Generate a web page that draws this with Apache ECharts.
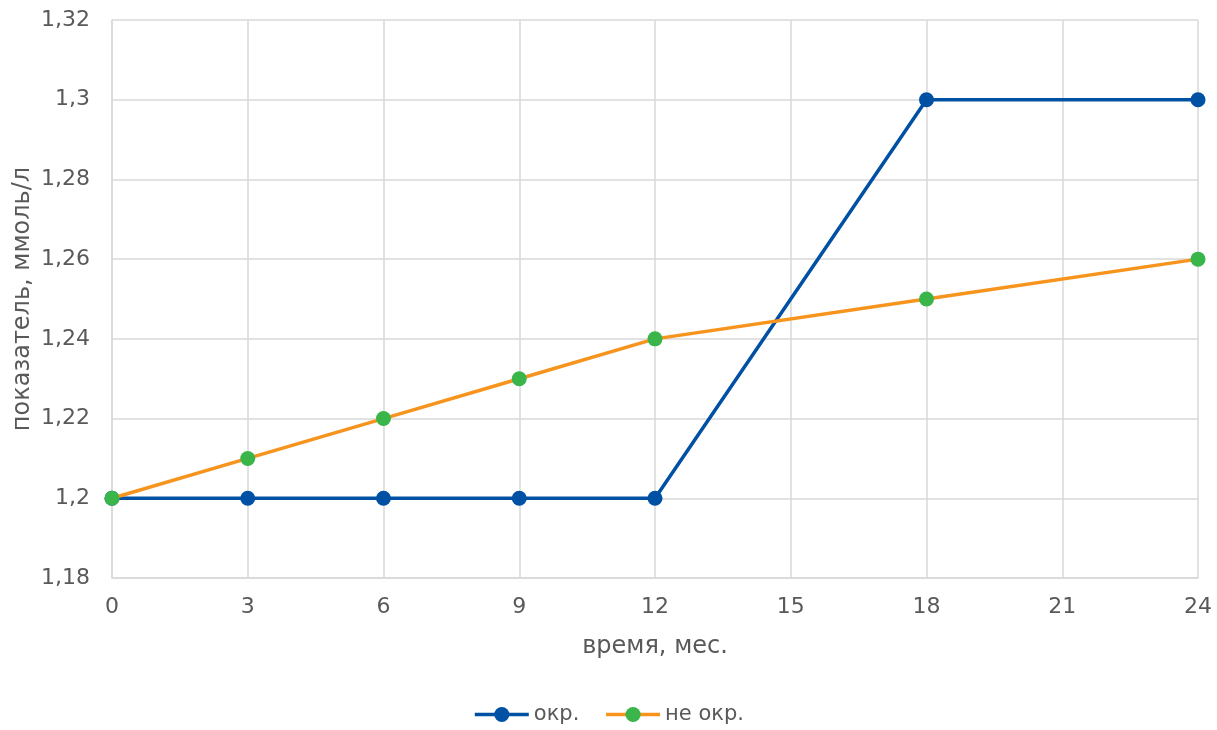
<!DOCTYPE html>
<html>
<head>
<meta charset="utf-8">
<script src="https://cdn.jsdelivr.net/npm/echarts@6/dist/echarts.min.js"></script>
<style>
  html, body { margin: 0; padding: 0; background: #fff; }
  #chart { width: 1217px; height: 730px; }
</style>
</head>
<body>
<div id="chart"></div>
<script>
// Months of observation
const months = [0, 3, 6, 9, 12, 18, 24];
// Indicator values, mmol/l
const seriesOkr = [1.2, 1.2, 1.2, 1.2, 1.2, 1.3, 1.3];
const seriesNeOkr = [1.2, 1.21, 1.22, 1.23, 1.24, 1.25, 1.26];
const seriesNames = ['окр.', 'не окр.'];

const FONT = '"DejaVu Sans", Verdana, sans-serif';
const TEXT = '#595959';
const GRID = '#d9d9d9';
const fmt = v => String(+v.toFixed(2)).replace('.', ',');

const chart = echarts.init(document.getElementById('chart'));
chart.setOption({
  animation: false,
  backgroundColor: '#fff',
  textStyle: { fontFamily: FONT, color: TEXT },
  grid: { left: 112, right: 19, top: 20, bottom: 152, containLabel: false, outerBoundsMode: 'none' },
  legend: {
    bottom: 0,
    left: 'center',
    itemWidth: 54,
    itemHeight: 19,
    itemGap: 25,
    lineStyle: { width: 3.5 },
    textStyle: { fontFamily: FONT, fontSize: 21, color: TEXT },
    data: seriesNames
  },
  xAxis: {
    type: 'value',
    min: 0, max: 24, interval: 3,
    name: 'время, мес.',
    nameLocation: 'middle',
    nameGap: 57,
    nameMoveOverlap: false,
    nameTextStyle: { fontFamily: FONT, fontSize: 24, color: TEXT },
    axisLine: { show: true, lineStyle: { color: GRID, width: 1.5 } },
    axisTick: { show: false },
    axisLabel: { fontFamily: FONT, fontSize: 22, color: TEXT, margin: 18 },
    splitLine: { show: true, lineStyle: { color: GRID, width: 1.5 } }
  },
  yAxis: {
    type: 'value',
    min: 1.18, max: 1.32, interval: 0.02,
    name: 'показатель, ммоль/л',
    nameLocation: 'middle',
    nameGap: 77,
    nameMoveOverlap: false,
    nameTextStyle: { fontFamily: FONT, fontSize: 24, color: TEXT },
    axisLine: { show: true, lineStyle: { color: GRID, width: 1.5 } },
    axisTick: { show: false },
    axisLabel: { fontFamily: FONT, fontSize: 22, color: TEXT, margin: 22, formatter: fmt },
    splitLine: { show: true, lineStyle: { color: GRID, width: 1.5 } }
  },
  series: [
    {
      name: seriesNames[0],
      type: 'line',
      data: months.map((m, i) => [m, seriesOkr[i]]),
      symbol: 'circle',
      symbolSize: 15,
      lineStyle: { color: '#0050a4', width: 3.5 },
      itemStyle: { color: '#0050a4' },
      z: 2
    },
    {
      name: seriesNames[1],
      type: 'line',
      data: months.map((m, i) => [m, seriesNeOkr[i]]),
      symbol: 'circle',
      symbolSize: 15,
      lineStyle: { color: '#f7941d', width: 3.5 },
      itemStyle: { color: '#3ab54a' },
      z: 3
    }
  ]
});
</script>
</body>
</html>
